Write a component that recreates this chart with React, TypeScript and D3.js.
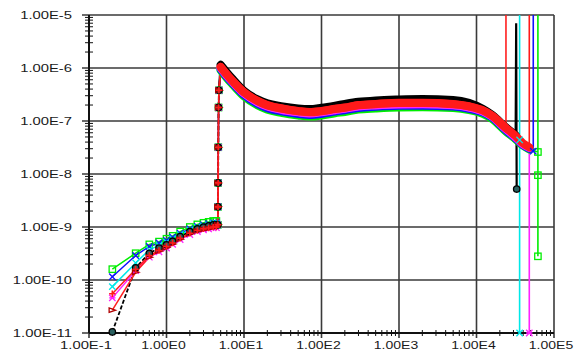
import React from 'react';
import * as d3 from 'd3';

const W = 574;
const H = 351;
const margin = { top: 15, right: 20, bottom: 18, left: 89 };

// axis ticks
const xTicks = [1e-1, 1e0, 1e1, 1e2, 1e3, 1e4, 1e5];
const xTickLabels = ['1.00E-1', '1.00E0', '1.00E1', '1.00E2', '1.00E3', '1.00E4', '1.00E5'];
const yTicks = [1e-11, 1e-10, 1e-9, 1e-8, 1e-7, 1e-6, 1e-5];
const yTickLabels = ['1.00E-11', '1.00E-10', '1.00E-9', '1.00E-8', '1.00E-7', '1.00E-6', '1.00E-5'];

// early part (before the jump)
const lowX = [0.2, 0.4, 0.6, 0.8, 1.0, 1.2, 1.5, 2.0, 2.5, 3.0, 3.5, 4.0, 4.4];
const greenLow = [1.6e-10, 3.2e-10, 4.7e-10, 5.3e-10, 6e-10, 6.8e-10, 8.2e-10, 1.0e-9, 1.12e-9, 1.2e-9, 1.25e-9, 1.3e-9, 1.3e-9];
const blueLow = [1.15e-10, 2.9e-10, 4.3e-10, 5e-10, 5.6e-10, 6.4e-10, 7.6e-10, 9.2e-10, 1.03e-9, 1.1e-9, 1.15e-9, 1.2e-9, 1.2e-9];
const cyanLow = [7.5e-11, 2.1e-10, 3.7e-10, 4.5e-10, 5.2e-10, 6e-10, 7.2e-10, 8.7e-10, 9.8e-10, 1.05e-9, 1.1e-9, 1.15e-9, 1.15e-9];
const blackLow = [1.05e-11, 1.7e-10, 3.2e-10, 4e-10, 4.6e-10, 5.4e-10, 6.6e-10, 8.2e-10, 9.2e-10, 1.0e-9, 1.05e-9, 1.1e-9, 1.1e-9];
const redLow = [5.5e-11, 1.6e-10, 2.9e-10, 3.6e-10, 4.3e-10, 5e-10, 6.1e-10, 7.6e-10, 8.6e-10, 9.2e-10, 9.6e-10, 1.0e-9, 1.0e-9];
const triLow = [2.7e-11, 1.4e-10, 2.7e-10, 3.5e-10, 4.1e-10, 4.8e-10, 5.9e-10, 7.4e-10, 8.4e-10, 9e-10, 9.4e-10, 9.8e-10, 1.0e-9];
const magentaLow = [4.6e-11, 1.5e-10, 2.7e-10, 3.4e-10, 4e-10, 4.7e-10, 5.8e-10, 7.2e-10, 8.2e-10, 8.8e-10, 9.2e-10, 9.6e-10, 9.7e-10];

// the jump
const jumpX = [4.6, 4.62, 4.64, 4.66, 4.7, 4.75];
const jumpY = [1.1e-9, 2.4e-9, 6.8e-9, 3.2e-8, 1.8e-7, 3.8e-7];

// main curve
const mainX = [5.0, 6, 7, 10, 15, 20, 30, 50, 70, 100, 150, 200, 300, 500, 1000, 2000, 5000, 8000, 1.2e4, 1.6e4, 2.4e4, 3.2e4, 4e4, 4.8e4];
const redMain = [1.05e-6, 7.6e-7, 5.9e-7, 3.5e-7, 2.4e-7, 2.0e-7, 1.74e-7, 1.55e-7, 1.48e-7, 1.55e-7, 1.7e-7, 1.8e-7, 2.0e-7, 2.1e-7, 2.2e-7, 2.2e-7, 2.1e-7, 1.9e-7, 1.6e-7, 1.25e-7, 7.4e-8, 5.2e-8, 3.8e-8, 3.2e-8];
const triMain = [1.04e-6, 7.5e-7, 5.8e-7, 3.45e-7, 2.37e-7, 1.97e-7, 1.72e-7, 1.53e-7, 1.46e-7, 1.53e-7, 1.68e-7, 1.78e-7, 1.98e-7, 2.08e-7, 2.18e-7, 2.18e-7, 2.08e-7, 1.88e-7, 1.58e-7, 1.24e-7, 7.3e-8];
const blackMain = [1.15e-6, 8.3e-7, 6.4e-7, 3.7e-7, 2.55e-7, 2.15e-7, 1.9e-7, 1.72e-7, 1.68e-7, 1.78e-7, 1.95e-7, 2.1e-7, 2.3e-7, 2.45e-7, 2.55e-7, 2.6e-7, 2.5e-7, 2.2e-7, 1.7e-7, 1.3e-7, 7.6e-8, 5.4e-8];
const blueMain = [9.5e-7, 6.8e-7, 5.3e-7, 3.1e-7, 2.1e-7, 1.75e-7, 1.52e-7, 1.36e-7, 1.3e-7, 1.36e-7, 1.5e-7, 1.6e-7, 1.76e-7, 1.85e-7, 1.93e-7, 1.95e-7, 1.88e-7, 1.7e-7, 1.45e-7, 1.15e-7, 6.6e-8, 4.7e-8, 3.5e-8, 3.0e-8];
const greenMain = [9e-7, 6.4e-7, 5.0e-7, 2.9e-7, 1.97e-7, 1.64e-7, 1.43e-7, 1.27e-7, 1.21e-7, 1.27e-7, 1.4e-7, 1.48e-7, 1.64e-7, 1.72e-7, 1.8e-7, 1.82e-7, 1.75e-7, 1.6e-7, 1.36e-7, 1.08e-7, 6.3e-8, 4.5e-8, 3.4e-8, 2.9e-8];
const magentaMain = [1e-6, 7.2e-7, 5.6e-7, 3.3e-7, 2.25e-7, 1.88e-7, 1.63e-7, 1.46e-7, 1.39e-7, 1.46e-7, 1.6e-7, 1.7e-7, 1.88e-7, 1.97e-7, 2.05e-7, 2.07e-7, 1.98e-7, 1.8e-7, 1.52e-7, 1.2e-7, 7e-8, 4.9e-8, 3.6e-8, 3.1e-8];
const cyanMain = [1.0e-6, 7.3e-7, 5.7e-7, 3.35e-7, 2.3e-7, 1.92e-7, 1.67e-7, 1.49e-7, 1.42e-7, 1.49e-7, 1.63e-7, 1.73e-7, 1.92e-7, 2.0e-7, 2.1e-7, 2.1e-7, 2.0e-7, 1.82e-7, 1.54e-7, 1.22e-7, 7.1e-8, 5.0e-8];

// where each run blows up
const redEnd = [[4.8e4, 1e-4]];
const triEnd = [[2.4e4, 1e-4]];
const blackEnd = [[3.25e4, 7e-6], [3.3e4, 5.2e-9]];
const blueEnd = [[5.4e4, 2.7e-8], [5.4e4, 1e-4]];
const greenEnd = [[6.2e4, 2.6e-8], [6.2e4, 1e-4], [6.2e4, 9.5e-9], [6.2e4, 2.8e-10]];
const magentaEnd = [[4.8e4, 1e-11]];
const cyanEnd = [[3.6e4, 4.4e-8], [3.6e4, 1e-4], [3.6e4, 1e-11]];

const series = [
  { name: 'green', color: '#00ee00', marker: 'square', low: greenLow, main: greenMain, end: greenEnd },
  { name: 'blue', color: '#1010ff', marker: 'x', low: blueLow, main: blueMain, end: blueEnd },
  { name: 'cyan', color: '#00e8e8', marker: 'x', low: cyanLow, main: cyanMain, end: cyanEnd },
  { name: 'magenta', color: '#ff20ff', marker: 'star', low: magentaLow, main: magentaMain, end: magentaEnd },
  { name: 'black', color: '#000000', marker: 'circle', low: blackLow, main: blackMain, end: blackEnd },
  { name: 'red2', color: '#ff2020', marker: 'triangle', low: triLow, main: triMain, end: triEnd },
  { name: 'red', color: '#ff1a1a', marker: 'plus', low: redLow, main: redMain, end: redEnd },
];

function Marker({ shape, x, y, color }) {
  const s = 3.2;
  const sw = 1.3;
  if (shape === 'square') return <rect x={x - s} y={y - s} width={2 * s} height={2 * s} fill="none" stroke={color} strokeWidth={sw} />;
  if (shape === 'circle') return <circle cx={x} cy={y} r={s} fill="#2a6060" stroke={color} strokeWidth={sw} />;
  if (shape === 'triangle') return <path d={`M${x - s},${y + s * 0.7}L${x + s},${y}L${x - s},${y - s * 0.7}Z`} fill="none" stroke="#b00000" strokeWidth={sw} />;
  if (shape === 'plus') return <path d={`M${x - s},${y}H${x + s}M${x},${y - s}V${y + s}`} stroke={color} strokeWidth={sw + 0.3} />;
  if (shape === 'x') return <path d={`M${x - s},${y - s}L${x + s},${y + s}M${x - s},${y + s}L${x + s},${y - s}`} stroke={color} strokeWidth={sw} />;
  return <path d={`M${x - s},${y - s}L${x + s},${y + s}M${x - s},${y + s}L${x + s},${y - s}M${x - s},${y}H${x + s}`} stroke={color} strokeWidth={sw} />;
}

export default function App() {
  const x = d3.scaleLog().domain([1e-1, 1e5]).range([margin.left, W - margin.right]);
  const y = d3.scaleLog().domain([1e-11, 1e-5]).range([H - margin.bottom, margin.top]);
  const x0 = margin.left, x1 = W - margin.right, y0 = H - margin.bottom, y1 = margin.top;

  const line = d3.line().x(d => x(d[0])).y(d => y(d[1]));
  const band = d3.line().x(d => x(d[0])).y(d => y(d[1])).curve(d3.curveMonotoneX);

  const minorX = [];
  for (let e = -1; e < 5; e++) for (let k = 2; k < 10; k++) minorX.push(k * Math.pow(10, e));
  const minorY = [];
  for (let e = -11; e < -5; e++) for (let k = 2; k < 10; k++) minorY.push(k * Math.pow(10, e));

  const built = series.map(s => {
    const low = lowX.map((v, i) => [v, s.low[i]]);
    const jump = jumpX.map((v, i) => [v, jumpY[i]]);
    const main = s.main.map((v, i) => [mainX[i], v]);
    return { ...s, lowPts: low, jumpPts: jump, mainPts: main, early: [...low, ...jump], late: [...jump.slice(-1), ...main, ...s.end] };
  });
  // markers only where the value is on the chart (spike tops carry none)
  const marked = d => d[1] >= 1e-11 && d[1] < 5e-6;
  const font = { fontFamily: '"Liberation Sans", Arial, sans-serif', fontSize: 11, fill: '#1a1a1a' };

  return (
    <svg width={W} height={H} style={{ position: 'absolute', left: 0, top: 0, background: '#fff' }}>
      <defs>
        <clipPath id="plot"><rect x={x0} y={y1} width={x1 - x0} height={y0 - y1} /></clipPath>
      </defs>
      {/* grid */}
      {yTicks.map(t => <line key={'gy' + t} x1={x0 - 7} x2={x1} y1={y(t)} y2={y(t)} stroke="#3a3a3a" strokeWidth={1.6} />)}
      {xTicks.map(t => <line key={'gx' + t} x1={x(t)} x2={x(t)} y1={y1} y2={y0 + 5} stroke="#3a3a3a" strokeWidth={1.6} />)}
      {/* axes */}
      <line x1={x0} x2={x0} y1={y1} y2={y0} stroke="#111" strokeWidth={2} />
      <line x1={x0} x2={x1} y1={y0} y2={y0} stroke="#111" strokeWidth={2} />
      {minorY.map(t => <line key={'my' + t} x1={x0 - 4} x2={x0 + 4} y1={y(t)} y2={y(t)} stroke="#111" strokeWidth={1} />)}
      {minorX.map(t => <line key={'mx' + t} x1={x(t)} x2={x(t)} y1={y0 - 3} y2={y0 + 3} stroke="#111" strokeWidth={1} />)}
      {/* labels */}
      {yTicks.map((t, i) => (
        <text key={'ly' + t} x={72} y={y(t)} dy="0.35em" textAnchor="end" textLength={yTickLabels[i].length * 7.4} lengthAdjust="spacingAndGlyphs" style={font}>{yTickLabels[i]}</text>
      ))}
      {xTicks.map((t, i) => (
        <text key={'lx' + t} x={x(t) - 3} y={349} textAnchor="middle" textLength={xTickLabels[i].length * 7.4} lengthAdjust="spacingAndGlyphs" style={font}>{xTickLabels[i]}</text>
      ))}
      <g clipPath="url(#plot)">
        {/* thin lines: black runs dashed before the jump */}
        {built.map(s => (
          <path key={'e' + s.name} d={line(s.early)} fill="none" stroke={s.color} strokeWidth={s.name === 'black' ? 1.8 : 1.5} strokeDasharray={s.name === 'black' ? '4,2' : null} />
        ))}
        {built.map(s => (
          <path key={'l' + s.name} d={line(s.late)} fill="none" stroke={s.color} strokeWidth={s.name === 'black' ? 2.2 : 1.6} />
        ))}
        {/* dense marker bands */}
        {built.map(s => (
          <path key={'b' + s.name} d={band(s.mainPts)} fill="none" stroke={s.color} strokeWidth={8} strokeLinecap="round" strokeLinejoin="round" />
        ))}
      </g>
      {built.map(s => (
        <g key={'m' + s.name}>
          {[...s.lowPts, ...s.jumpPts, ...s.end.filter(marked)].map((d, i) => (
            <Marker key={i} shape={s.marker} x={x(d[0])} y={y(d[1])} color={s.color} />
          ))}
        </g>
      ))}
    </svg>
  );
}
